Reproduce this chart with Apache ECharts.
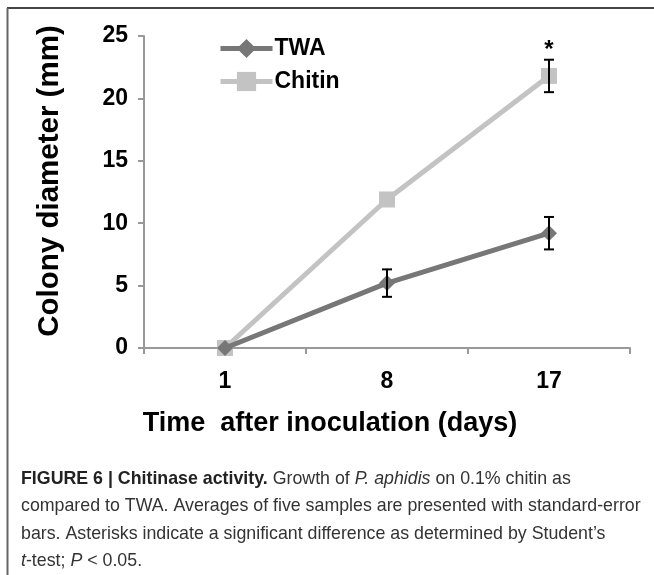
<!DOCTYPE html>
<html><head><meta charset="utf-8">
<script src="https://cdn.jsdelivr.net/npm/echarts@6/dist/echarts.min.js"></script>
<style>html,body{margin:0;padding:0;background:#fff}#c{width:654px;height:575px}</style>
</head><body><div id="c"></div>
<script>
const categories = ['1', '8', '17'];
const twaValues = [0, 5.2, 9.2];
const twaErrors = [0, 1.1, 1.3];
const chitinValues = [0, 11.9, 21.8];
const chitinErrors = [0, 0, 1.3];
const yTicks = [0, 5, 10, 15, 20, 25];
const seriesNames = ['TWA', 'Chitin'];
const starMark = { category: '17', value: 22.9, text: '*' };

const chart = echarts.init(document.getElementById('c'), null, { renderer: 'canvas' });
const FONT = 'Liberation Sans, Arial, sans-serif';

function errData(vals, errs) {
  return categories.map((c, i) => [i, vals[i] - errs[i], vals[i] + errs[i]]).filter((d, i) => errs[i] > 0);
}
function errRender(params, api) {
  const x = api.value(0);
  const lo = api.coord([x, api.value(1)]);
  const hi = api.coord([x, api.value(2)]);
  const w = 5;
  const st = { stroke: '#000', lineWidth: 2 };
  return { type: 'group', children: [
    { type: 'line', shape: { x1: lo[0], y1: lo[1], x2: hi[0], y2: hi[1] }, style: st },
    { type: 'line', shape: { x1: lo[0] - w, y1: lo[1], x2: lo[0] + w, y2: lo[1] }, style: st },
    { type: 'line', shape: { x1: hi[0] - w, y1: hi[1], x2: hi[0] + w, y2: hi[1] }, style: st }
  ]};
}

chart.setOption({
  animation: false,
  backgroundColor: '#fff',
  grid: { left: 144, right: 24, top: 36, bottom: 227 },
  legend: {
    orient: 'vertical', left: 213, top: 32, itemGap: 10,
    itemWidth: 52, itemHeight: 24,
    lineStyle: { width: 5 },
    textStyle: { fontFamily: FONT, fontWeight: 'bold', fontSize: 23, color: '#000', padding: [0, 0, 0, -3] },
    data: seriesNames
  },
  xAxis: {
    type: 'category', data: categories, boundaryGap: true,
    axisLine: { lineStyle: { color: '#999', width: 2 } },
    axisTick: { show: true, length: 6, lineStyle: { color: '#999', width: 2 } },
    axisLabel: { fontFamily: FONT, fontWeight: 'bold', fontSize: 23, color: '#000', margin: 22 },
    name: 'Time  after inoculation (days)', nameLocation: 'middle', nameGap: 62,
    nameTextStyle: { fontFamily: FONT, fontWeight: 'bold', fontSize: 27, color: '#000', padding: [0, 114, 0, 0] }
  },
  yAxis: {
    type: 'value', min: 0, max: 25, interval: 5,
    axisLine: { show: true, lineStyle: { color: '#999', width: 2 } },
    axisTick: { show: true, length: 6, lineStyle: { color: '#999', width: 2 } },
    splitLine: { show: false },
    axisLabel: { fontFamily: FONT, fontWeight: 'bold', fontSize: 23, color: '#000', margin: 16,
      formatter: v => yTicks.includes(v) ? String(v) : '' },
    name: 'Colony diameter (mm)', nameLocation: 'middle', nameGap: 79, nameRotate: 90,
    nameTextStyle: { fontFamily: FONT, fontWeight: 'bold', fontSize: 29.5, color: '#000', padding: [0, 0, 0, 22] }
  },
  series: [
    { name: seriesNames[0], type: 'line', data: twaValues, symbol: 'diamond', symbolSize: 16,
      lineStyle: { color: '#777', width: 5 }, itemStyle: { color: '#777' }, z: 3 },
    { name: seriesNames[1], type: 'line', data: chitinValues, symbol: 'rect', symbolSize: 16,
      lineStyle: { color: '#c3c3c3', width: 5 }, itemStyle: { color: '#c3c3c3' }, z: 2,
      markPoint: { symbol: 'circle', symbolSize: 0,
        data: [{ coord: [starMark.category, starMark.value], value: starMark.text }],
        label: { show: true, position: 'top', distance: 0, formatter: starMark.text,
          fontFamily: FONT, fontWeight: 'bold', fontSize: 24, color: '#000' } } },
    { type: 'custom', renderItem: errRender, data: errData(twaValues, twaErrors), z: 5, silent: true },
    { type: 'custom', renderItem: errRender, data: errData(chitinValues, chitinErrors), z: 5, silent: true }
  ],
  graphic: [
    { type: 'line', shape: { x1: 7, y1: 8, x2: 654, y2: 8 }, style: { stroke: '#444', lineWidth: 2 } },
    { type: 'line', shape: { x1: 7.5, y1: 8, x2: 7.5, y2: 575 }, style: { stroke: '#666', lineWidth: 2 } },
    { type: 'text', left: 21, top: 465, style: {
      text: '{b|FIGURE 6 | Chitinase activity.} Growth of {i|P. aphidis} on 0.1% chitin as\ncompared to TWA. Averages of five samples are presented with standard-error\nbars. Asterisks indicate a significant difference as determined by Student\u2019s\n{i|t}-test; {i|P} < 0.05.',
      font: '17.8px Liberation Sans, Arial, sans-serif', fill: '#333', lineHeight: 27.5,
      rich: {
        b: { fontWeight: 'bold', fontSize: 17.8, fontFamily: FONT, fill: '#222', lineHeight: 27.5 },
        i: { fontStyle: 'italic', fontSize: 17.8, fontFamily: FONT, fill: '#333', lineHeight: 27.5 }
      }
    } }
  ]
});
</script></body></html>
